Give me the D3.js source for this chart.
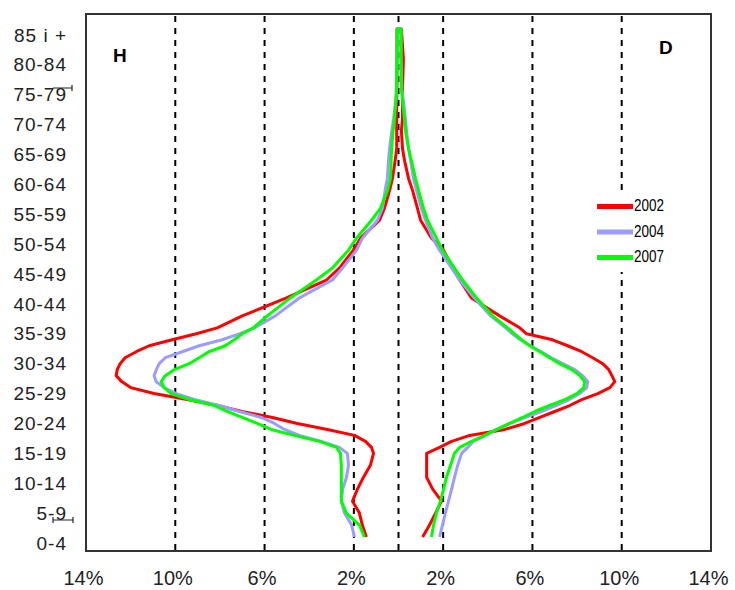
<!DOCTYPE html>
<html lang="en">
<head>
<meta charset="utf-8">
<style>
  body { margin: 0; background: #fff; }
  svg { font-family: 'Liberation Sans', Arial, sans-serif; }
  .grid line { stroke: #000; stroke-width: 2; stroke-dasharray: 6,6; }
  .series { fill: none; stroke-width: 3; stroke-linejoin: round; }
  .axis text { fill: #222; }
</style>
</head>
<body>
<svg width="735" height="590"></svg>
<script src="https://cdn.jsdelivr.net/npm/d3@7"></script>
<script>
var ages = [0,2,4,6,8,10,12,14,15,16,17,18,19,20,21,22,23,24,25,26,27,28,29,30,31,32,33,34,35,37,40,43,45,48,50,53,55,58,60,63,65,68,70,73,75,80,85];

var ageGroups = ["0-4","5-9","10-14","15-19","20-24","25-29","30-34","35-39","40-44",
                 "45-49","50-54","55-59","60-64","65-69","70-74","75-79","80-84","85 i +"];
var xTicks = [-14,-10,-6,-2,2,6,10,14];
var gridVals = [-10,-6,-2,0,2,6,10];
var years = ["2002","2004","2007"];
var colors = ["#ff0000","#9c9cff","#00ff00"];

// % of population, H (men, left) and D (women, right)
var h2002 = [1.44,1.62,1.75,2.06,1.84,1.57,1.26,1.12,1.21,1.48,1.97,3.19,4.53,5.65,7.0,8.12,9.47,10.95,12.0,12.4,12.65,12.6,12.47,12.25,11.75,11.17,10.14,9.06,8.12,7.0,5.02,3.23,2.65,2.02,1.70,0.85,0.63,0.40,0.27,0.15,0.08,0.08,0.08,0.08,0.07,0.07,0.07];
var d2002 = [1.08,1.39,1.66,1.93,1.53,1.26,1.26,1.26,1.84,2.38,3.19,4.76,5.65,6.33,7.0,7.67,8.21,8.93,9.47,9.69,9.56,9.42,9.15,8.7,8.21,7.58,6.9,5.74,5.43,4.53,3.27,2.74,2.42,2.02,1.48,0.99,0.85,0.63,0.45,0.27,0.18,0.13,0.18,0.18,0.18,0.22,0.13];
var h2004 = [1.97,2.1,2.42,2.56,2.5,2.33,2.24,2.29,2.65,3.45,4.44,5.11,5.56,6.15,7.13,8.03,9.15,9.96,10.5,10.86,10.95,10.85,10.72,10.45,9.69,8.93,7.9,7.13,6.46,5.52,4.44,2.96,2.51,1.88,1.62,0.94,0.72,0.6,0.5,0.45,0.4,0.3,0.22,0.12,0.08,0.06,0.05];
var d2004 = [1.84,1.97,2.1,2.24,2.38,2.51,2.65,2.83,3.1,3.35,3.9,4.4,4.98,5.7,6.4,7.05,7.65,8.12,8.43,8.48,8.25,7.9,7.36,6.85,6.4,5.9,5.45,5.1,4.8,4.12,3.4,2.74,2.38,1.84,1.53,1.21,1.03,0.81,0.67,0.54,0.45,0.36,0.31,0.22,0.15,0.11,0.11];
var h2007 = [1.53,1.75,2.33,2.56,2.56,2.56,2.56,2.6,2.78,3.54,4.67,5.7,6.33,7.0,7.67,8.25,9.38,10.18,10.5,10.63,10.45,10.05,9.38,8.93,8.5,7.76,7.36,7.0,6.5,5.88,4.85,3.68,2.96,2.24,1.88,1.21,0.81,0.49,0.36,0.33,0.31,0.24,0.18,0.12,0.09,0.07,0.05];
var d2007 = [1.48,1.57,1.7,1.88,2.02,2.15,2.33,2.51,2.74,3.27,3.86,4.4,4.98,5.56,6.1,6.77,7.45,7.99,8.3,8.34,8.12,7.76,7.22,6.77,6.33,5.88,5.52,5.2,4.89,4.22,3.5,2.87,2.51,1.97,1.7,1.3,1.12,0.9,0.76,0.58,0.45,0.31,0.27,0.18,0.13,0.11,0.11];

var menSeries = [h2002, h2004, h2007];
var womenSeries = [d2002, d2004, d2007];

var svg = d3.select("svg");

var x = d3.scaleLinear().domain([-14, 14]).range([86, 711]);
var y = d3.scaleLinear().domain([0, 85]).range([537, 29]);
var yCat = d3.scalePoint().domain(ageGroups).range([y(0) + 6, y(85) + 6]);

// dashed gridlines
svg.append("g").attr("class", "grid")
  .selectAll("line").data(gridVals).enter().append("line")
    .attr("x1", d => x(d)).attr("x2", d => x(d))
    .attr("y1", 16).attr("y2", 551);

// frame
svg.append("rect")
  .attr("x", 86).attr("y", 14).attr("width", 625).attr("height", 537)
  .attr("fill", "none").attr("stroke", "#333").attr("stroke-width", 2);

// bottom axis
var xAxis = svg.append("g").attr("class", "axis")
  .attr("transform", "translate(0,551)")
  .call(d3.axisBottom(x).tickValues(xTicks).tickSize(0).tickPadding(20)
        .tickFormat(d => Math.abs(d) + "%"));
xAxis.select(".domain").remove();
xAxis.selectAll("text").attr("font-size", 20).attr("dx", -3)
  .style("font-family", "'Liberation Sans', Arial, sans-serif");

// left axis (age groups)
var yAxis = svg.append("g").attr("class", "axis")
  .attr("transform", "translate(86,0)")
  .call(d3.axisLeft(yCat).tickSize(0).tickPadding(19));
yAxis.select(".domain").remove();
yAxis.selectAll("text").attr("font-size", 19).attr("letter-spacing", 1)
  .style("font-family", "'Liberation Sans', Arial, sans-serif");

// small stray marks on the age axis
var marks = svg.append("g").attr("stroke", "#222").attr("stroke-width", 1.2);
marks.append("path").attr("d", "M53,88H72M72,85V91").attr("fill", "none");
marks.append("path").attr("d", "M53,520H73M53,517V523M73,517V523").attr("fill", "none");

// series
var line = d3.line().x(d => x(d[0])).y(d => y(d[1]));
years.forEach(function(yr, k) {
  var pts = ages.map((a, i) => [-menSeries[k][i], a])
    .concat(ages.map((a, i) => [womenSeries[k][i], a]).reverse());
  svg.append("path").attr("class", "series")
    .attr("d", line(pts))
    .attr("stroke", colors[k])
    .attr("stroke-width", k === 1 ? 3.5 : 3);
});

// H / D labels
svg.append("text").attr("x", 113).attr("y", 62).text("H")
  .attr("font-size", 19).attr("font-weight", "bold");
svg.append("text").attr("x", 659).attr("y", 54).text("D")
  .attr("font-size", 19).attr("font-weight", "bold");

// legend
var legend = svg.append("g");
legend.append("rect").attr("x", 592).attr("y", 191).attr("width", 80).attr("height", 81)
  .attr("fill", "#fff");
years.forEach(function(yr, k) {
  var ly = 206.5 + k * 25.5;
  legend.append("line").attr("x1", 597).attr("x2", 633).attr("y1", ly).attr("y2", ly)
    .attr("stroke", colors[k]).attr("stroke-width", 5);
  legend.append("text").attr("x", 634).attr("y", ly + 4.5).text(yr)
    .attr("font-size", 16).attr("textLength", 30).attr("lengthAdjust", "spacingAndGlyphs");
});
</script>
</body>
</html>
